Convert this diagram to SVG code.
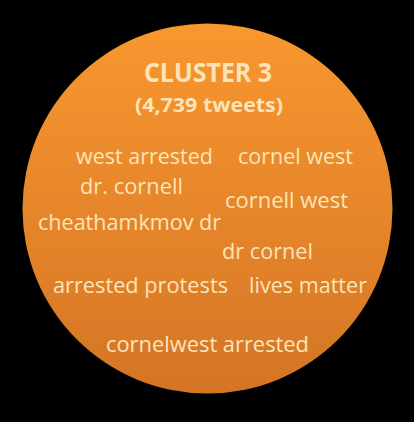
<svg xmlns="http://www.w3.org/2000/svg" width="414" height="422" viewBox="0 0 414 422">
<defs>
<linearGradient id="g" x1="0" y1="0" x2="0" y2="1">
<stop offset="0" stop-color="#F9972F"/>
<stop offset="1" stop-color="#D47526"/>
</linearGradient>
<style>
.t{font-family:"Open Sans","Liberation Sans",sans-serif;fill:#FCE4B8;font-size:22.5px}
.b{font-weight:bold;text-anchor:middle}
</style>
</defs>
<rect width="414" height="422" fill="#000"/>
<g id="cluster3">
<circle cx="207.5" cy="208.5" r="185" fill="url(#g)"/>
<text class="t b" x="208" y="82" style="font-size:27px" textLength="128" lengthAdjust="spacingAndGlyphs">CLUSTER 3</text>
<text class="t b" x="209" y="112" style="font-size:20px" textLength="148" lengthAdjust="spacingAndGlyphs">(4,739 tweets)</text>
</g>
<g id="terms">
<text class="t" x="76" y="164" textLength="137" lengthAdjust="spacingAndGlyphs">west arrested</text>
<text class="t" x="238" y="164" textLength="115" lengthAdjust="spacingAndGlyphs">cornel west</text>
<text class="t" x="80" y="194" textLength="103" lengthAdjust="spacingAndGlyphs">dr. cornell</text>
<text class="t" x="225" y="208" textLength="123" lengthAdjust="spacingAndGlyphs">cornell west</text>
<text class="t" x="38" y="230" textLength="183" lengthAdjust="spacingAndGlyphs">cheathamkmov dr</text>
<text class="t" x="222" y="259" textLength="91" lengthAdjust="spacingAndGlyphs">dr cornel</text>
<text class="t" x="53" y="293" textLength="175" lengthAdjust="spacingAndGlyphs">arrested protests</text>
<text class="t" x="249" y="293" textLength="118" lengthAdjust="spacingAndGlyphs">lives matter</text>
<text class="t" x="106" y="352" textLength="203" lengthAdjust="spacingAndGlyphs">cornelwest arrested</text>
</g>
</svg>
